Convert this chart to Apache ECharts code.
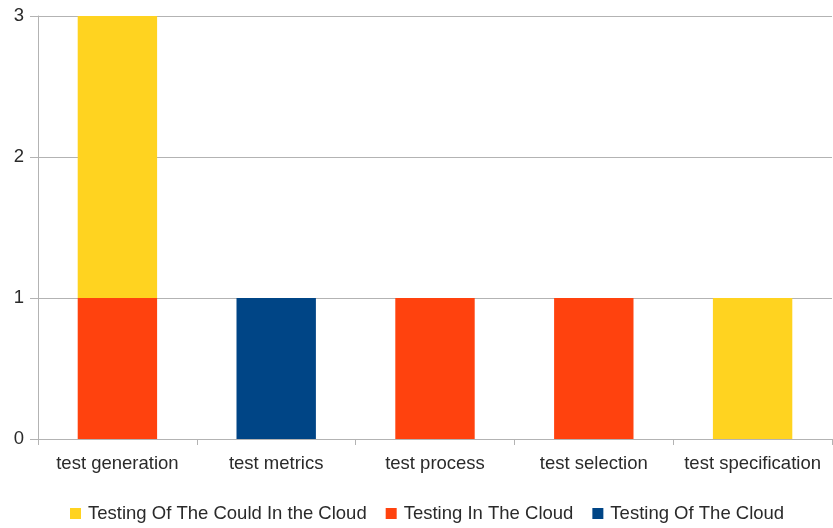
<!DOCTYPE html>
<html>
<head>
<meta charset="utf-8">
<script src="https://cdn.jsdelivr.net/npm/echarts@6/dist/echarts.min.js"></script>
<style>
  html, body { margin: 0; padding: 0; background: #fff; }
  #chart { width: 833px; height: 528px; }
</style>
</head>
<body>
<div id="chart"></div>
<script>
// categories and series values
var categories = ['test generation', 'test metrics', 'test process', 'test selection', 'test specification'];
var inTheCloud = [1, 0, 1, 1, 0];       // Testing In The Cloud
var ofTheCloud = [0, 1, 0, 0, 0];       // Testing Of The Cloud
var couldInCloud = [2, 0, 0, 0, 1];     // Testing Of The Could In the Cloud
var yTicks = [0, 1, 2, 3];

var chart = echarts.init(document.getElementById('chart'));
var font = 'Liberation Sans, Arial, sans-serif';

function nz(arr) {
  // leave empty cells out so no zero-height bars are drawn
  return arr.map(function (v) { return v === 0 ? '-' : v; });
}

var option = {
  animation: false,
  textStyle: { fontFamily: font },
  grid: { left: 38, right: 1, top: 16, bottom: 89, containLabel: false },
  legend: {
    data: ['Testing Of The Could In the Cloud', 'Testing In The Cloud', 'Testing Of The Cloud'],
    bottom: 0,
    left: 65,
    itemWidth: 11,
    itemHeight: 11,
    itemGap: 19,
    icon: 'rect',
    textStyle: { fontSize: 18.5, color: '#2a2a2a', fontFamily: font, padding: [0, 0, 0, 2] }
  },
  xAxis: {
    type: 'category',
    data: categories,
    axisLine: { lineStyle: { color: '#b3b3b3' } },
    axisTick: { show: true, interval: 0, length: 6, lineStyle: { color: '#b3b3b3' } },
    axisLabel: { color: '#2a2a2a', fontSize: 18.5, margin: 15, interval: 0, fontFamily: font }
  },
  yAxis: {
    type: 'value',
    min: yTicks[0],
    max: yTicks[yTicks.length - 1],
    interval: 1,
    axisLine: { show: true, lineStyle: { color: '#b3b3b3' } },
    axisTick: { show: true, length: 8, lineStyle: { color: '#b3b3b3' } },
    axisLabel: { color: '#2a2a2a', fontSize: 18.5, margin: 14, fontFamily: font },
    splitLine: { lineStyle: { color: '#b3b3b3' } }
  },
  series: [
    { name: 'Testing In The Cloud', type: 'bar', stack: 'a', barWidth: '50%',
      itemStyle: { color: '#ff420e' }, data: nz(inTheCloud) },
    { name: 'Testing Of The Cloud', type: 'bar', stack: 'a', barWidth: '50%',
      itemStyle: { color: '#004586' }, data: nz(ofTheCloud) },
    { name: 'Testing Of The Could In the Cloud', type: 'bar', stack: 'a', barWidth: '50%',
      itemStyle: { color: '#ffd320' }, data: nz(couldInCloud) }
  ]
};

chart.setOption(option);
</script>
</body>
</html>
